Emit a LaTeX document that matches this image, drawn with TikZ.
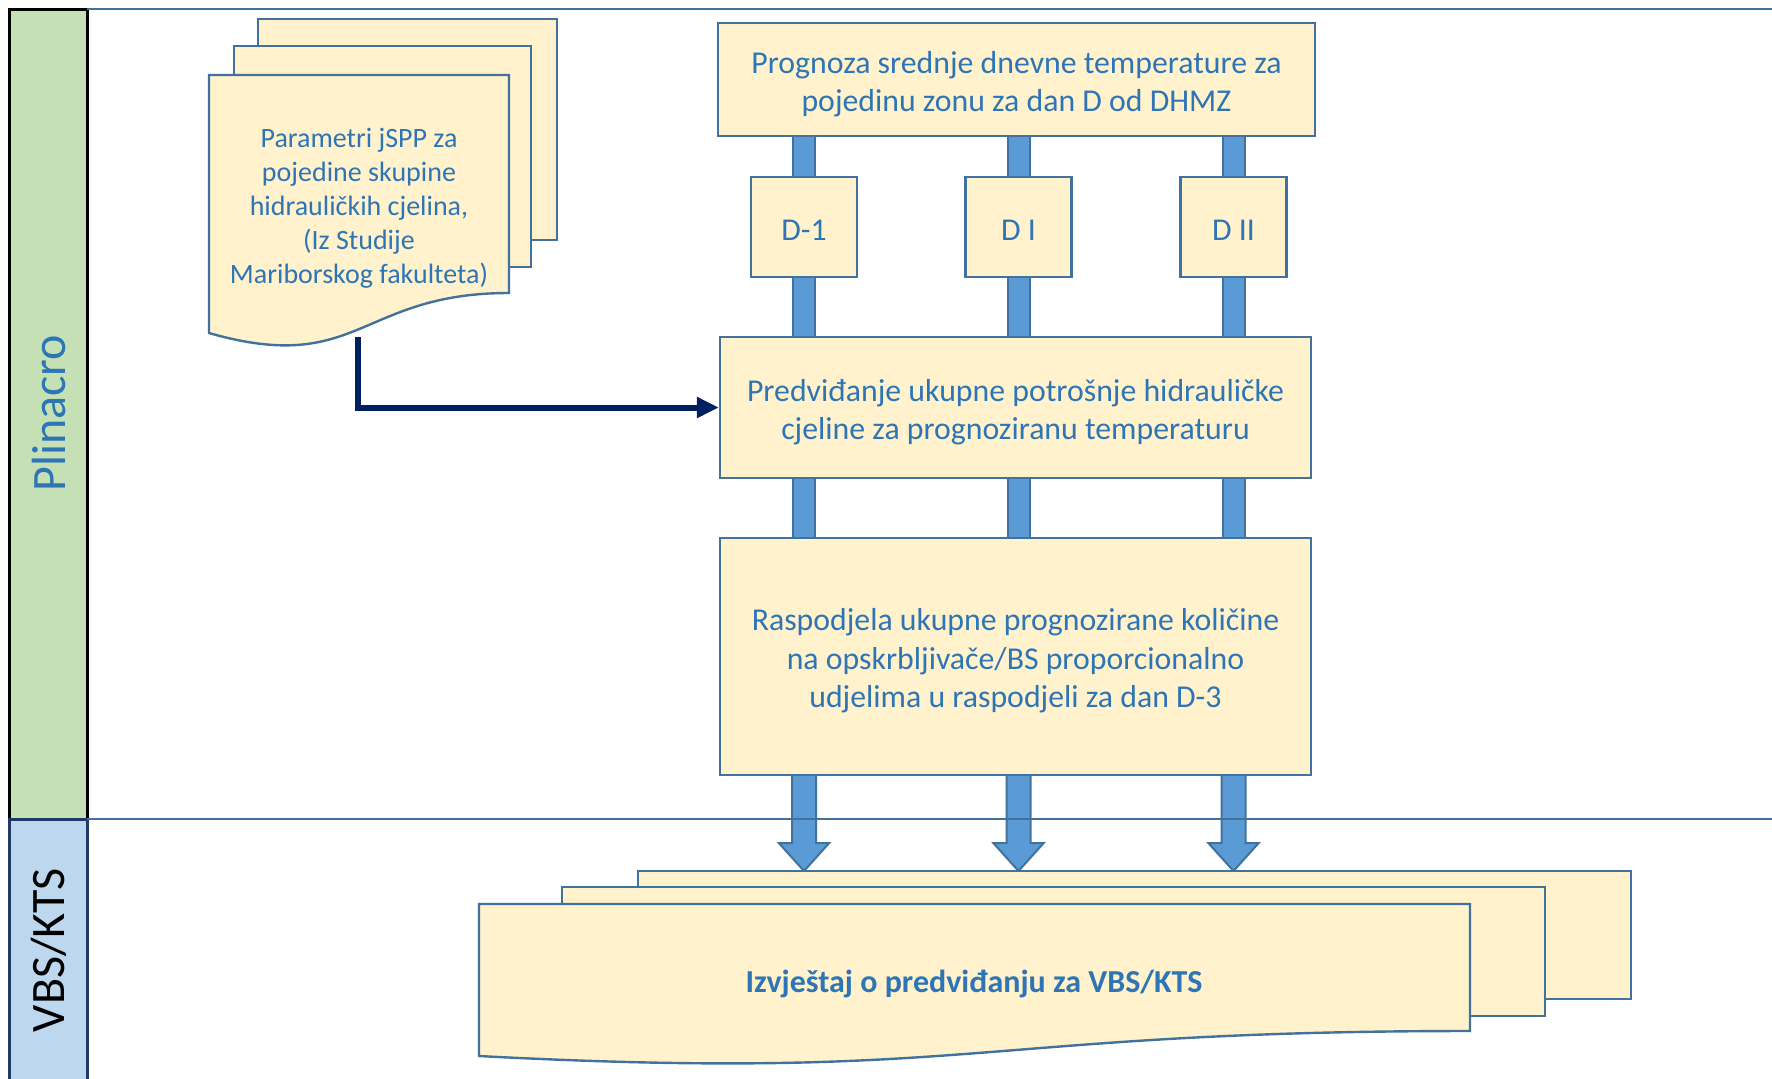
\documentclass[tikz,border=0pt]{standalone}
\usepackage{fontspec}
\setmainfont{Carlito}
\usetikzlibrary{arrows.meta,calc}
\definecolor{cream}{HTML}{FFF2CC}
\definecolor{boxborder}{HTML}{41719C}
\definecolor{textblue}{HTML}{2E75B6}
\definecolor{barfill}{HTML}{5B9BD5}
\definecolor{lanegreen}{HTML}{C5E0B4}
\definecolor{laneblue}{HTML}{BDD7EE}
\definecolor{navy}{HTML}{002060}
\definecolor{lanenavy}{HTML}{203864}
\pgfdeclarelayer{background}
\pgfsetlayers{background,main}
\tikzset{
  box/.style={draw=boxborder, fill=cream, line width=1.2pt, inner sep=0pt},
  boxtext/.style={text=textblue, align=center, inner sep=0pt,
    font=\fontsize{15.9}{19.2}\selectfont},
  docfill/.style={draw=boxborder, fill=cream, line width=1.2pt},
  bar/.style={line width=1pt, draw=boxborder, double=barfill, double distance=10pt},
  fatarrow/.style={draw=boxborder, fill=barfill, line width=1pt, line join=miter},
  navyarrow/.style={draw=navy, line width=3pt, -{Triangle[length=11pt,width=10pt]}},
  laneline/.style={draw=boxborder, line width=1.4pt},
  lanelabel/.style={rotate=90, font=\fontsize{24}{28}\selectfont},
}
\begin{document}
\begin{tikzpicture}[x=0.5pt,y=-0.5pt]
\useasboundingbox (0,0) rectangle (1772,1078);

% lanes
\draw[fill=lanegreen, draw=black, line width=1.5pt] (9,9) rectangle (87,819);
\draw[fill=laneblue, draw=lanenavy, line width=1.5pt] (9,819) rectangle (87,1090);
\node[lanelabel, text=textblue] (lplin) at (49,413) {Plinacro};
\node[lanelabel, text=black] (lvbs) at (49,950) {VBS/KTS};
\draw[laneline] (87,9) -- (1772,9);

% boxes
\node[box, minimum width=298.5pt, minimum height=56.5pt] (prog) at (1016.5,79.5) {};
\node[boxtext] (progt) at ([yshift=-2.2pt]prog.center)
  {Prognoza srednje dnevne temperature za\\pojedinu zonu za dan D od DHMZ};
\node[box, minimum width=53pt, minimum height=50pt] (d1) at (804,227) {};
\node[box, minimum width=53pt, minimum height=50pt] (d2) at (1018.5,227) {};
\node[box, minimum width=53pt, minimum height=50pt] (d3) at (1233.5,227) {};
\node[boxtext] (d1t) at ([yshift=-1.6pt]d1.center) {D-1};
\node[boxtext] (d2t) at ([yshift=-1.6pt]d2.center) {D I};
\node[boxtext] (d3t) at ([yshift=-1.6pt]d3.center) {D II};
\node[box, minimum width=295.5pt, minimum height=70.5pt] (pred) at (1015.5,407.5) {};
\node[boxtext] (predt) at ([yshift=-2.2pt]pred.center)
  {Predviđanje ukupne potrošnje hidrauličke\\cjeline za prognoziranu temperaturu};
\node[box, minimum width=295.5pt, minimum height=118.5pt] (rasp) at (1015.5,656.5) {};
\node[boxtext] (raspt) at ([yshift=-2.2pt]rasp.center)
  {Raspodjela ukupne prognozirane količine\\na opskrbljivače/BS proporcionalno\\udjelima u raspodjeli za dan D-3};

% Parametri multi-document
\draw[docfill] (258,19) rectangle (557,240);
\draw[docfill] (234,46) rectangle (531,267);
\draw[docfill] (209,75) -- (509,75) -- (509,293)
  .. controls (359,293) and (359,376) .. (209,333) -- cycle;
\node[text=textblue, align=center, font=\fontsize{14}{17}\selectfont] (param) at (359,208)
  {Parametri jSPP za\\pojedine skupine\\hidrauličkih cjelina,\\(Iz Studije\\Mariborskog fakulteta)};
\coordinate (pout) at (358,337);

% bottom multi-document
\draw[docfill] (638,871) rectangle (1631,999);
\draw[docfill] (562,887) rectangle (1545,1016);
\draw[docfill] (479,904) -- (1470,904) -- (1470,1031)
  .. controls (974.5,1031) and (974.5,1082) .. (479,1056) -- cycle;
\node[text=textblue, font=\bfseries\fontsize{16}{19}\selectfont] (izv) at (974,984)
  {Izvještaj o predviđanju za VBS/KTS};
\coordinate (bdtop) at (0,871);

% bars and fat arrows
\begin{pgfonlayer}{background}
\foreach \d in {d1,d2,d3}{
  \draw[bar] (prog.south -| \d) -- (\d.north);
  \draw[bar] (\d.south) -- (pred.north -| \d);
  \draw[bar] (pred.south -| \d) -- (rasp.north -| \d);
  \draw[fatarrow] ($(rasp.south -| \d)+(-12,-3)$) -- ($(rasp.south -| \d)+(-12,67)$)
    -- ($(rasp.south -| \d)+(-25,67)$) -- (bdtop -| \d) -- ($(rasp.south -| \d)+(25,67)$)
    -- ($(rasp.south -| \d)+(12,67)$) -- ($(rasp.south -| \d)+(12,-3)$) -- cycle;
}
\end{pgfonlayer}

\draw[laneline] (87,819) -- (1772,819);

% navy connector
\draw[navyarrow] (pout) |- (pred.west);
\end{tikzpicture}
\end{document}
